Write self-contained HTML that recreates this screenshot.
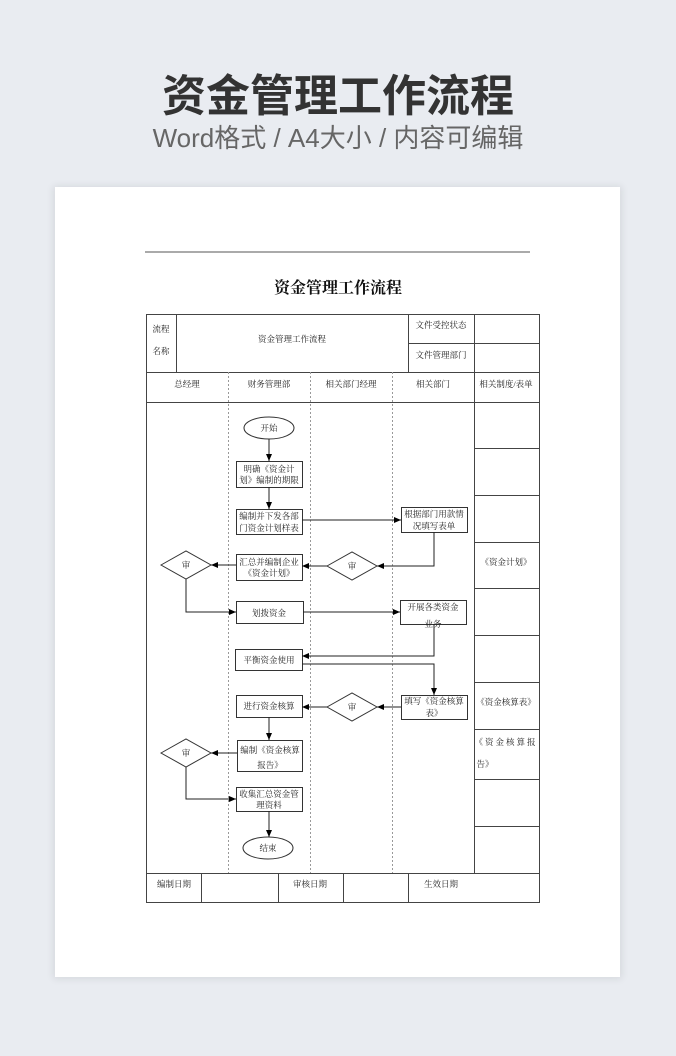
<!DOCTYPE html>
<html><head><meta charset="utf-8"><style>
html,body{margin:0;padding:0;background:#e9ecf1;}
svg{display:block}
</style></head><body>
<svg width="676" height="1056" viewBox="0 0 676 1056" xmlns="http://www.w3.org/2000/svg">
<defs>
<filter id="sh" x="-10%" y="-10%" width="120%" height="120%"><feGaussianBlur stdDeviation="4"/></filter>
<marker id="ar" markerWidth="8" markerHeight="8" refX="7" refY="4" orient="auto" markerUnits="userSpaceOnUse"><path d="M0,1 L7,4 L0,7 z" fill="#000"/></marker>
</defs>
<rect x="0" y="0" width="676" height="1056" fill="#e9ecf1"/>
<text x="338" y="111" text-anchor="middle" font-family="'Noto Sans CJK SC',sans-serif" font-weight="bold" font-size="44" fill="#333">资金管理工作流程</text>
<text x="338" y="147" text-anchor="middle" font-family="'Liberation Sans','Noto Sans CJK SC',sans-serif" font-size="26" fill="#666">Word格式 / A4大小 / 内容可编辑</text>
<rect x="53" y="186" width="569" height="793" fill="#000" opacity="0.08" filter="url(#sh)"/>
<rect x="55" y="187" width="565" height="790" fill="#fff"/>
<line x1="145" y1="252" x2="530" y2="252" stroke="#555" stroke-width="1"/>
<text x="338" y="293" text-anchor="middle" font-family="'Noto Serif CJK SC',serif" font-weight="bold" font-size="16" fill="#111">资金管理工作流程</text>

<g fill="none" stroke="#444" stroke-width="1">
<rect x="146.5" y="314.5" width="393" height="588"/>
<line x1="146" y1="372.5" x2="539" y2="372.5"/>
<line x1="146" y1="402.5" x2="539" y2="402.5"/>
<line x1="146" y1="873.5" x2="539" y2="873.5"/>
<line x1="176.5" y1="314" x2="176.5" y2="372"/>
<line x1="408.5" y1="314" x2="408.5" y2="372"/>
<line x1="474.5" y1="314" x2="474.5" y2="873"/>
<line x1="408" y1="343.5" x2="539" y2="343.5"/>
<g stroke="#999" stroke-dasharray="2,2">
<line x1="228.5" y1="372" x2="228.5" y2="873"/>
<line x1="310.5" y1="372" x2="310.5" y2="873"/>
<line x1="392.5" y1="372" x2="392.5" y2="873"/>
</g>
<line x1="474" y1="448.5" x2="539" y2="448.5"/>
<line x1="474" y1="495.5" x2="539" y2="495.5"/>
<line x1="474" y1="542.5" x2="539" y2="542.5"/>
<line x1="474" y1="588.5" x2="539" y2="588.5"/>
<line x1="474" y1="635.5" x2="539" y2="635.5"/>
<line x1="474" y1="682.5" x2="539" y2="682.5"/>
<line x1="474" y1="729.5" x2="539" y2="729.5"/>
<line x1="474" y1="779.5" x2="539" y2="779.5"/>
<line x1="474" y1="826.5" x2="539" y2="826.5"/>
<line x1="201.5" y1="873" x2="201.5" y2="902"/>
<line x1="278.5" y1="873" x2="278.5" y2="902"/>
<line x1="343.5" y1="873" x2="343.5" y2="902"/>
<line x1="408.5" y1="873" x2="408.5" y2="902"/>
</g>

<g font-family="'Liberation Serif','Noto Serif CJK SC',serif" font-size="8.5" fill="#222" text-anchor="middle">
<text x="161" y="332">流程</text>
<text x="161" y="354">名称</text>
<text x="292" y="342">资金管理工作流程</text>
<text x="441" y="328">文件受控状态</text>
<text x="441" y="358">文件管理部门</text>
<text x="187" y="387">总经理</text>
<text x="269" y="387">财务管理部</text>
<text x="351" y="387">相关部门经理</text>
<text x="433" y="387">相关部门</text>
<text x="506" y="387">相关制度/表单</text>
<text x="506" y="565">《资金计划》</text>
<text x="506" y="705">《资金核算表》</text>
<text x="506" y="745" letter-spacing="2">《资金核算报</text>
<text x="485" y="767">告》</text>
<text x="174" y="887">编制日期</text>
<text x="310" y="887">审核日期</text>
<text x="441" y="887">生效日期</text>
</g>

<g fill="#fff" stroke="#333" stroke-width="1">
<ellipse cx="269" cy="428" rx="25" ry="11"/>
<rect x="236.5" y="461.5" width="66" height="26"/>
<rect x="236.5" y="509.5" width="66" height="25"/>
<rect x="236.5" y="554.5" width="66" height="26"/>
<rect x="236.5" y="601.5" width="67" height="22"/>
<rect x="235.5" y="649.5" width="67" height="21"/>
<rect x="236.5" y="695.5" width="66" height="22"/>
<rect x="237.5" y="740.5" width="65" height="31"/>
<rect x="236.5" y="787.5" width="66" height="24"/>
<ellipse cx="268" cy="848" rx="25" ry="11"/>
<rect x="401.5" y="507.5" width="66" height="25"/>
<rect x="400.5" y="600.5" width="66" height="24"/>
<rect x="401.5" y="695.5" width="66" height="24"/>
<path d="M161,565 L186,551 L211,565 L186,579 Z"/>
<path d="M327,566 L352,552 L377,566 L352,580 Z"/>
<path d="M327,707 L352,693 L377,707 L352,721 Z"/>
<path d="M161,753 L186,739 L211,753 L186,767 Z"/>
</g>

<g fill="none" stroke="#222" stroke-width="1" marker-end="url(#ar)">
<line x1="269" y1="439" x2="269" y2="461"/>
<line x1="269" y1="487" x2="269" y2="509"/>
<line x1="302" y1="520" x2="401" y2="520"/>
<path d="M434,532 V566 H377"/>
<line x1="327" y1="566" x2="302" y2="566"/>
<line x1="236" y1="565" x2="211" y2="565"/>
<path d="M186,579 V612 H236"/>
<line x1="303" y1="612" x2="400" y2="612"/>
<path d="M434,624 V656 H302"/>
<path d="M302,664 H434 V695"/>
<line x1="401" y1="707" x2="377" y2="707"/>
<line x1="327" y1="707" x2="302" y2="707"/>
<line x1="269" y1="717" x2="269" y2="740"/>
<line x1="237" y1="753" x2="211" y2="753"/>
<path d="M186,767 V799 H236"/>
<line x1="269" y1="811" x2="269" y2="837"/>
</g>

<g font-family="'Liberation Serif','Noto Serif CJK SC',serif" font-size="8.5" fill="#222" text-anchor="middle">
<text x="269" y="431">开始</text>
<text x="269" y="472">明确《资金计</text>
<text x="269" y="483">划》编制的期限</text>
<text x="269" y="519">编制并下发各部</text>
<text x="269" y="531">门资金计划样表</text>
<text x="269" y="565">汇总并编制企业</text>
<text x="269" y="576">《资金计划》</text>
<text x="269" y="616">划拨资金</text>
<text x="269" y="663">平衡资金使用</text>
<text x="269" y="709">进行资金核算</text>
<text x="270" y="753">编制《资金核算</text>
<text x="270" y="768">报告》</text>
<text x="269" y="797">收集汇总资金管</text>
<text x="269" y="808">理资料</text>
<text x="268" y="851">结束</text>
<text x="434" y="517">根据部门用款情</text>
<text x="434" y="529">况填写表单</text>
<text x="433" y="610">开展各类资金</text>
<text x="433" y="627">业务</text>
<text x="434" y="704">填写《资金核算</text>
<text x="434" y="716">表》</text>
<text x="186" y="568">审</text>
<text x="352" y="569">审</text>
<text x="352" y="710">审</text>
<text x="186" y="756">审</text>
</g>
</svg>
</body></html>
